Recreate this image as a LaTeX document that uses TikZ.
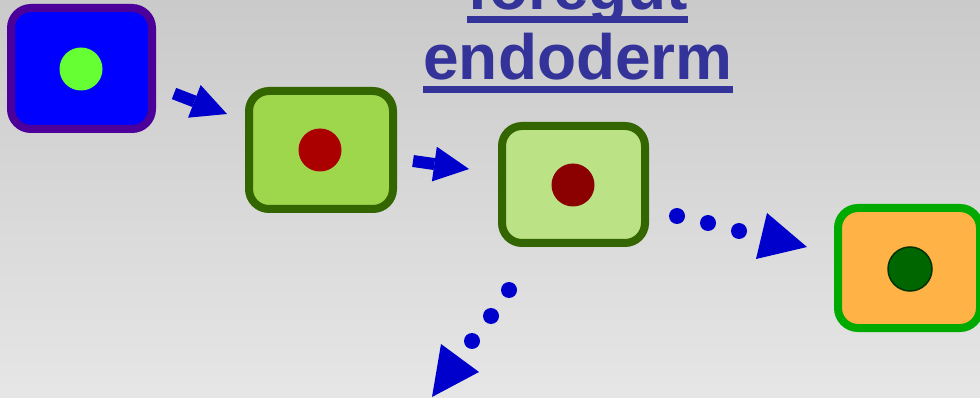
\documentclass[tikz,border=0pt]{standalone}
\usepackage{fontspec}
\setmainfont{Liberation Sans}
\usetikzlibrary{arrows.meta}
\definecolor{bgtop}{RGB}{202,202,202}
\definecolor{bgbot}{RGB}{230,230,230}
\definecolor{arrowblue}{RGB}{0,0,204}
\definecolor{titleblue}{RGB}{51,51,153}
\definecolor{boxblue}{RGB}{0,0,255}
\definecolor{borderpurple}{RGB}{76,0,153}
\definecolor{dotlime}{RGB}{102,255,51}
\definecolor{fillgreen}{RGB}{158,214,76}
\definecolor{fillpale}{RGB}{188,226,134}
\definecolor{borderolive}{RGB}{51,102,0}
\definecolor{dotred}{RGB}{170,0,0}
\definecolor{dotdarkred}{RGB}{139,0,0}
\definecolor{fillorange}{RGB}{255,179,71}
\definecolor{bordergreen}{RGB}{0,170,0}
\definecolor{dotgreen}{RGB}{0,102,0}
\definecolor{dotgreenedge}{RGB}{0,51,0}
\begin{document}
\begin{tikzpicture}[x=1pt,y=-1pt,
  cell/.style={draw, line width=8pt, rounded corners=20pt, inner sep=0pt},
  nucleus/.style={circle, inner sep=0pt, minimum size=43pt},
  blockarrow/.style={draw=arrowblue, line width=12pt,
     -{Triangle[length=35pt,width=35pt,line width=0pt]}},
  bigdot/.style={fill=arrowblue},
  titletext/.style={font=\fontsize{64}{70}\selectfont\bfseries, text=titleblue, inner sep=0pt, anchor=base}
]
\useasboundingbox (0,0) rectangle (980,398);
\shade[top color=bgtop, bottom color=bgbot] (0,0) rectangle (980,398);

% title
\node[titletext] (t1) at (578,10) {foregut};
\node[titletext] (t2) at (578,80) {endoderm};
\fill[titleblue] (467,16) rectangle (688,23);
\fill[titleblue] (423,86) rectangle (733,93);

% cells
\node[cell, draw=borderpurple, fill=boxblue, minimum width=141pt, minimum height=121pt] (c1) at (81.5,68.5) {};
\node[nucleus, fill=dotlime] (n1) at (81,69) {};

\node[cell, draw=borderolive, fill=fillgreen, minimum width=144pt, minimum height=118pt] (c2) at (321,150) {};
\node[nucleus, fill=dotred] (n2) at (320,150) {};

\node[cell, draw=borderolive, fill=fillpale, minimum width=143pt, minimum height=117pt] (c3) at (573.5,184.5) {};
\node[nucleus, fill=dotdarkred] (n3) at (573,185) {};

\node[cell, draw=bordergreen, fill=fillorange, minimum width=142pt, minimum height=120pt] (c4) at (909,268) {};
\node[nucleus, fill=dotgreen, draw=dotgreenedge, line width=1.5pt, minimum size=44pt] (n4) at (910,269) {};

% solid block arrows
\coordinate (a1s) at (174,93.5);
\coordinate (a1e) at (227,114);
\draw[blockarrow] (a1s) -- (a1e);
\coordinate (a2s) at (413,161);
\coordinate (a2e) at (469,169);
\draw[blockarrow] (a2s) -- (a2e);

% dotted arrow to the right
\fill[bigdot] (677,216) circle (8);
\fill[bigdot] (708,223) circle (8);
\fill[bigdot] (739,231) circle (8);
\coordinate (r1) at (767,213);
\coordinate (r2) at (756,259);
\coordinate (r3) at (807,247);
\fill[bigdot] (r1) -- (r2) -- (r3) -- cycle;

% dotted arrow down-left
\fill[bigdot] (509,290) circle (8);
\fill[bigdot] (491,316) circle (8);
\fill[bigdot] (472,341) circle (8);
\coordinate (l1) at (441,344);
\coordinate (l2) at (432,397);
\coordinate (l3) at (479,372);
\fill[bigdot] (l1) -- (l2) -- (l3) -- cycle;
\end{tikzpicture}
\end{document}
